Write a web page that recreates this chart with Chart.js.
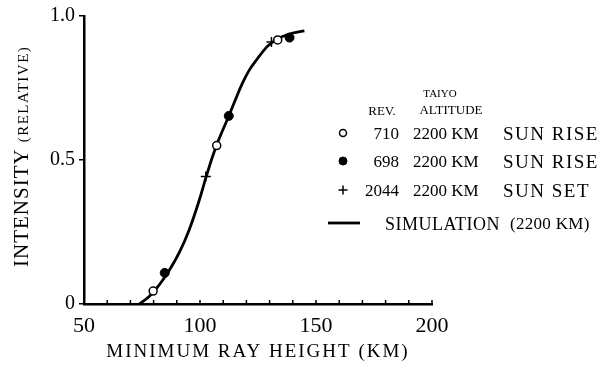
<!DOCTYPE html>
<html>
<head>
<meta charset="utf-8">
<script src="https://cdn.jsdelivr.net/npm/chart.js@4.4.0/dist/chart.umd.min.js"></script>
<style>
  html, body { margin: 0; padding: 0; background: #fff; }
  #wrap { width: 597px; height: 369px; }
</style>
</head>
<body>
<div id="wrap"><canvas id="myChart" width="597" height="369"></canvas></div>
<script>
// minimum ray height (km) against relative intensity, three orbits + simulation
const rev710X = [79.8, 107.2, 133.5];
const rev710Y = [0.045, 0.55, 0.917];
const rev698X = [84.8, 112.4, 138.6];
const rev698Y = [0.108, 0.653, 0.925];
const rev2044X = [102.5, 130.8];
const rev2044Y = [0.443, 0.91];

const simX = [73.8, 78.1, 82.4, 86.7, 91.1, 95.4, 99.7, 102.7, 106.9, 112.4, 115.3, 118.3, 121.3, 124.4, 128.7, 131.3, 134.3, 137.0, 140.0, 145.0];
const simY = [0, 0.026, 0.066, 0.116, 0.179, 0.259, 0.361, 0.443, 0.546, 0.653, 0.710, 0.767, 0.813, 0.848, 0.892, 0.909, 0.924, 0.933, 0.941, 0.948];

const xTickLabels = [50, 100, 150, 200];
const yTickLabels = { 0: '0', 0.5: '0.5', 1: '1.0' };

const legendRows = [
    { rev: '710', alt: '2200 KM', note: 'SUN RISE' },
    { rev: '698', alt: '2200 KM', note: 'SUN RISE' },
    { rev: '2044', alt: '2200 KM', note: 'SUN SET' }
];

const SERIF = '"Liberation Serif", "DejaVu Serif", serif';

function pts(xs, ys) {
    return xs.map((x, i) => ({ x: x, y: ys[i] }));
}

// titles, inward x ticks and the side legend are drawn by hand
const paperDecor = {
    id: 'paperDecor',
    afterDraw(chart) {
        const ctx = chart.ctx;
        const xs = chart.scales.x;
        const ys = chart.scales.y;
        ctx.save();
        ctx.strokeStyle = '#000';
        ctx.fillStyle = '#000';

        // small ticks pointing up into the plot
        ctx.lineWidth = 1.5;
        xs.ticks.forEach(t => {
            const px = xs.getPixelForValue(t.value);
            ctx.beginPath();
            ctx.moveTo(px, ys.bottom);
            ctx.lineTo(px, ys.bottom - 4);
            ctx.stroke();
        });

        // x title
        ctx.letterSpacing = '2px';
        ctx.font = '19px ' + SERIF;
        ctx.textAlign = 'center';
        ctx.textBaseline = 'alphabetic';
        ctx.fillText('MINIMUM RAY HEIGHT (KM)', 258, 357);

        // y title, big word + small bracket
        ctx.save();
        ctx.translate(28, 267);
        ctx.rotate(-Math.PI / 2);
        ctx.textAlign = 'left';
        ctx.letterSpacing = '1px';
        ctx.font = '21px ' + SERIF;
        ctx.fillText('INTENSITY', 0, 0);
        const w = ctx.measureText('INTENSITY').width;
        ctx.letterSpacing = '1.5px';
        ctx.font = '15px ' + SERIF;
        ctx.fillText('(RELATIVE)', w + 6, 0);
        ctx.restore();

        // legend header
        ctx.letterSpacing = '0px';
        ctx.textAlign = 'center';
        ctx.font = '11px ' + SERIF;
        ctx.fillText('TAIYO', 440, 97);
        ctx.font = '13px ' + SERIF;
        ctx.fillText('REV.', 382, 115);
        ctx.fillText('ALTITUDE', 451, 114);

        const rowY = [133, 161, 190];
        const sets = chart.data.datasets;
        legendRows.forEach((row, i) => {
            const ds = sets[i];
            ctx.fillStyle = ds.backgroundColor;
            ctx.strokeStyle = ds.borderColor;
            ctx.lineWidth = ds.borderWidth;
            Chart.helpers.drawPoint(ctx, {
                pointStyle: ds.pointStyle,
                radius: ds.legendRadius,
                borderWidth: ds.borderWidth,
                rotation: 0
            }, 343, rowY[i]);
            ctx.fillStyle = '#000';
            ctx.strokeStyle = '#000';
            ctx.textAlign = 'right';
            ctx.font = '17px ' + SERIF;
            ctx.fillText(row.rev, 399, rowY[i] + 6);
            ctx.textAlign = 'left';
            ctx.fillText(row.alt, 413, rowY[i] + 6);
            ctx.letterSpacing = '1.5px';
            ctx.font = '19px ' + SERIF;
            ctx.fillText(row.note, 503, rowY[i] + 6.5);
            ctx.letterSpacing = '0px';
        });

        // simulation line sample
        const simDs = sets[3];
        ctx.lineWidth = simDs.borderWidth;
        ctx.strokeStyle = simDs.borderColor;
        ctx.beginPath();
        ctx.moveTo(328, 223);
        ctx.lineTo(360, 223);
        ctx.stroke();
        ctx.textAlign = 'left';
        ctx.letterSpacing = '0.5px';
        ctx.font = '18px ' + SERIF;
        ctx.fillText('SIMULATION', 385, 229.5);
        ctx.letterSpacing = '0.3px';
        ctx.font = '17px ' + SERIF;
        ctx.fillText('(2200 KM)', 510, 229);

        ctx.restore();
    }
};

const ctx = document.getElementById('myChart').getContext('2d');
new Chart(ctx, {
    type: 'scatter',
    data: {
        datasets: [
            {
                label: '710',
                data: pts(rev710X, rev710Y),
                pointStyle: 'circle',
                pointRadius: 4,
                legendRadius: 3.5,
                backgroundColor: '#fff',
                borderColor: '#000',
                borderWidth: 1.5
            },
            {
                label: '698',
                data: pts(rev698X, rev698Y),
                pointStyle: 'circle',
                pointRadius: 4.5,
                legendRadius: 4,
                backgroundColor: '#000',
                borderColor: '#000',
                borderWidth: 1
            },
            {
                label: '2044',
                data: pts(rev2044X, rev2044Y),
                pointStyle: 'cross',
                pointRadius: 5,
                legendRadius: 4.5,
                backgroundColor: '#000',
                borderColor: '#000',
                borderWidth: 1.5
            },
            {
                label: 'SIMULATION',
                type: 'line',
                data: pts(simX, simY),
                showLine: true,
                pointRadius: 0,
                borderColor: '#000',
                borderWidth: 2.8,
                tension: 0.4,
                fill: false,
                order: 1
            }
        ]
    },
    options: {
        responsive: false,
        animation: false,
        devicePixelRatio: 1,
        layout: { padding: { top: 16, right: 165, left: 0, bottom: 0 } },
        plugins: {
            legend: { display: false },
            tooltip: { enabled: false }
        },
        scales: {
            x: {
                type: 'linear',
                min: 50,
                max: 200,
                afterFit(scale) { scale.height = 65; },
                border: { display: true, color: '#000', width: 2.5 },
                grid: { display: false, drawTicks: false },
                ticks: {
                    stepSize: 10,
                    autoSkip: false,
                    maxRotation: 0,
                    padding: 9,
                    color: '#000',
                    font: { family: SERIF, size: 22 },
                    callback: v => xTickLabels.includes(v) ? String(v) : ''
                }
            },
            y: {
                type: 'linear',
                min: 0,
                max: 1,
                afterFit(scale) { scale.width = 84; },
                border: { display: true, color: '#000', width: 2.5 },
                grid: { drawOnChartArea: false, drawTicks: true, tickLength: 5, color: '#000', lineWidth: 1.5 },
                ticks: {
                    stepSize: 0.5,
                    padding: 4,
                    color: '#000',
                    font: { family: SERIF, size: 20 },
                    callback: v => yTickLabels[v] !== undefined ? yTickLabels[v] : ''
                }
            }
        }
    },
    plugins: [paperDecor]
});
</script>
</body>
</html>
